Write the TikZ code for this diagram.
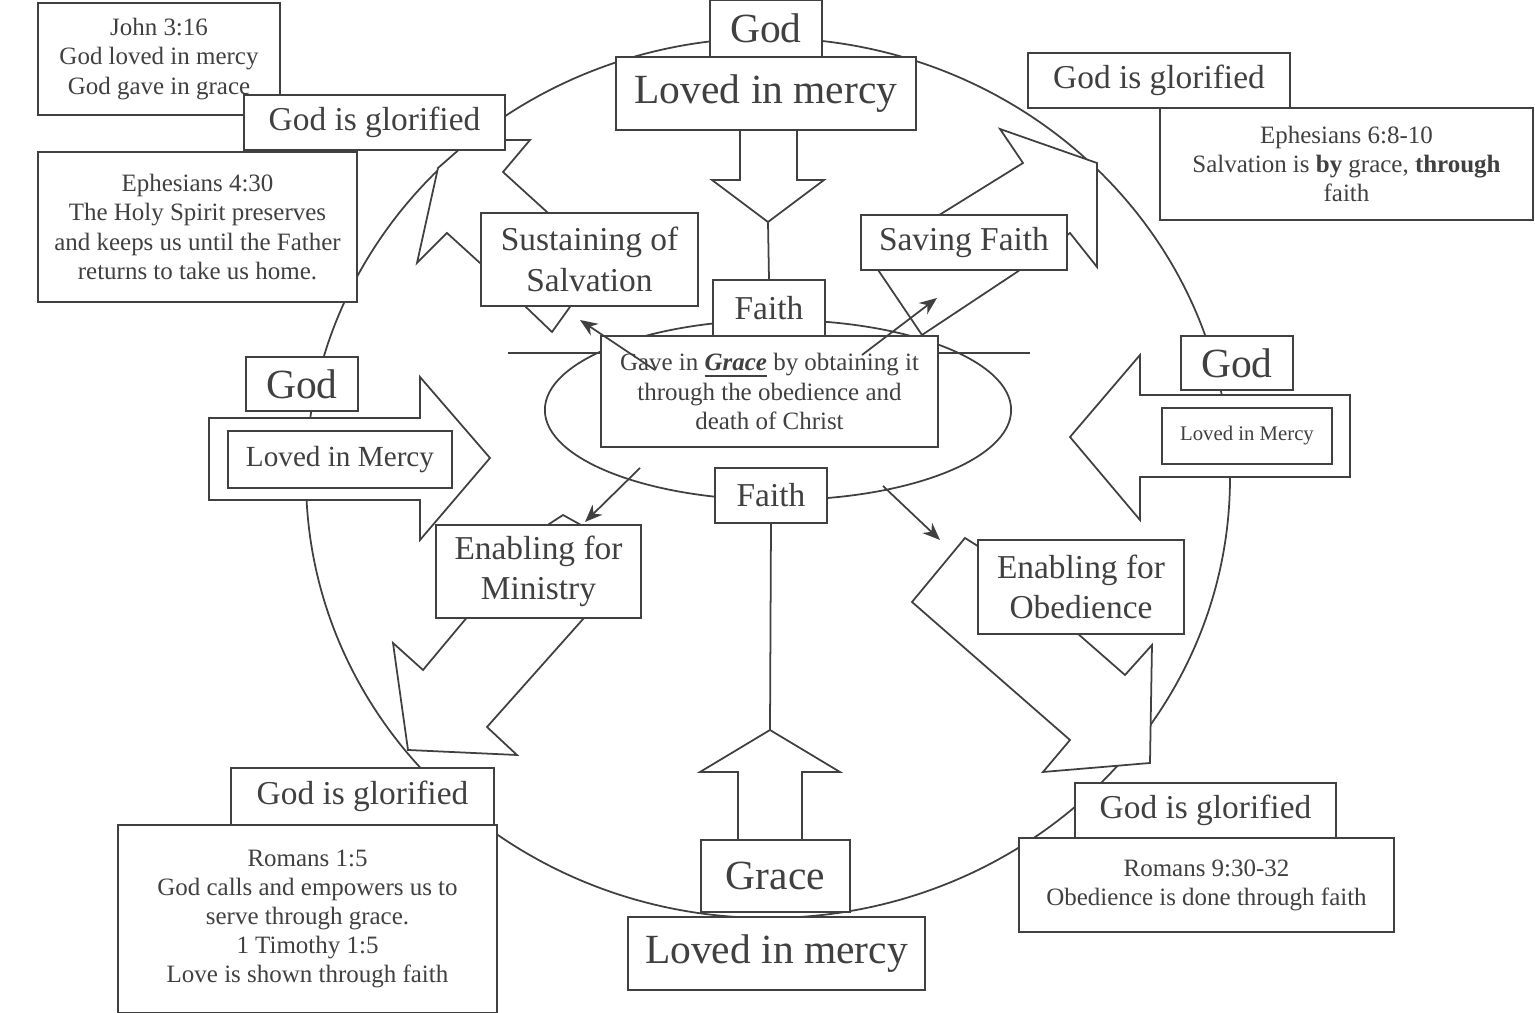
\documentclass[tikz,border=0pt]{standalone}
\usepackage{fontspec}
\setmainfont{Liberation Serif}
\usetikzlibrary{arrows.meta,shapes.geometric}
\tikzset{
  box/.style={draw, fill=white, align=center, inner sep=1pt, line width=0.5pt},
  big/.style={box, font=\fontsize{11.8}{14}\selectfont},
  mid/.style={box, font=\fontsize{9.5}{11.5}\selectfont},
  small/.style={box, font=\fontsize{7.1}{8.3}\selectfont},
  blk/.style={draw, fill=white, line width=0.5pt},
  ptr/.style={-{Stealth[length=5pt,width=4pt]}, line width=0.5pt}
}
\begin{document}
\begin{tikzpicture}[x=0.01cm, y=-0.01cm, color=black!75]
\useasboundingbox (0,0) rectangle (1535,1013);
% outer cycle
\draw[line width=0.5pt] (768,478) ellipse [x radius=462, y radius=440];
% block arrows
\draw[blk] (740,130) -- (740,180) -- (712,180) -- (768,222) -- (824,180) -- (797,180) -- (797,130) -- cycle;
\draw[blk] (738,840) -- (738,772) -- (700,772) -- (770,730) -- (840,772) -- (802,772) -- (802,840) -- cycle;
\draw[blk] (209,418) -- (420,418) -- (420,377) -- (490,458) -- (420,540) -- (420,500) -- (209,500) -- cycle;
\draw[blk] (1350,395) -- (1140,395) -- (1140,355) -- (1070,437) -- (1140,520) -- (1140,477) -- (1350,477) -- cycle;
\draw[blk] (552,332) -- (480,263) -- (447,233) -- (417,263) -- (438,168) -- (470,140) -- (530,140) -- (503,172) -- (547,212) -- (600,265) -- cycle;
\draw[blk] (922,335) -- (870,258) -- (1023,163) -- (1000,129) -- (1097,163) -- (1097,267) -- (1070,233) -- (1017,272) -- cycle;
\draw[blk] (563,515) -- (540,530) -- (423,670) -- (393,643) -- (408,750) -- (517,755) -- (487,727) -- (600,600) -- (590,530) -- cycle;
\draw[blk] (965,538) -- (912,602) -- (1070,740) -- (1043,772) -- (1150,763) -- (1152,645) -- (1125,675) -- (1077,633) -- (1050,600) -- (1000,560) -- cycle;
\draw[line width=0.5pt] (508,353) -- (1030,353);
\node[draw, ellipse, line width=0.5pt, minimum width=4.66cm, minimum height=1.8cm] (ring) at (778,410) {};
\coordinate (tipT) at (768,222);
\coordinate (tipB) at (770,730);
% boxes
\node[small, minimum width=2.42cm, minimum height=1.12cm] (john) at (159,59) {John 3:16\\God loved in mercy\\God gave in grace};
\node[mid, minimum width=2.61cm, minimum height=0.55cm] (glorTL) at (374.5,122.5) {God is glorified};
\node[small, minimum width=3.19cm, minimum height=1.50cm] (eph430) at (197.5,227) {Ephesians 4:30\\The Holy Spirit preserves\\and keeps us until the Father\\returns to take us home.};
\node[big, minimum width=1.12cm, minimum height=0.57cm] (godT) at (766,28.5) {God};
\node[big, minimum width=3.00cm, minimum height=0.73cm] (lovedT) at (766,93.5) {Loved in mercy};
\node[mid, minimum width=2.62cm, minimum height=0.55cm] (glorTR) at (1159,80.5) {God is glorified};
\node[small, minimum width=3.73cm, minimum height=1.12cm] (eph68) at (1346.5,164) {Ephesians 6:8-10\\Salvation is \textbf{by} grace, \textbf{through}\\faith};
\node[mid, minimum width=2.17cm, minimum height=0.93cm] (sustain) at (589.5,259.5) {Sustaining of\\Salvation};
\node[mid, minimum width=2.06cm, minimum height=0.55cm] (saving) at (964,242.5) {Saving Faith};
\node[mid, minimum width=1.12cm, minimum height=0.56cm] (faithT) at (769,308) {Faith};
\node[small, minimum width=3.37cm, minimum height=1.11cm] (gave) at (769.5,391.5) {Gave in \underline{\textbf{\textit{Grace}}} by obtaining it\\through the obedience and\\death of Christ};
\node[mid, minimum width=1.12cm, minimum height=0.55cm] (faithB) at (771,495.5) {Faith};
\node[big, minimum width=1.12cm, minimum height=0.54cm] (godL) at (302,384) {God};
\node[box, font=\fontsize{8.3}{10}\selectfont, minimum width=2.24cm, minimum height=0.57cm] (lovedL) at (340,459.5) {Loved in Mercy};
\node[big, minimum width=1.12cm, minimum height=0.54cm] (godR) at (1237,363) {God};
\node[box, font=\fontsize{5.9}{7}\selectfont, minimum width=1.70cm, minimum height=0.56cm] (lovedR) at (1247,436) {Loved in Mercy};
\node[big, minimum width=1.49cm, minimum height=0.72cm] (grace) at (775.5,876) {Grace};
\node[big, minimum width=2.97cm, minimum height=0.73cm] (lovedB) at (776.5,953.5) {Loved in mercy};
\node[mid, minimum width=2.63cm, minimum height=0.57cm] (glorBL) at (362.5,796.5) {God is glorified};
\node[small, minimum width=3.79cm, minimum height=1.88cm] (rom15) at (307.5,919) {Romans 1:5\\God calls and empowers us to\\serve through grace.\\1 Timothy 1:5\\Love is shown through faith};
\node[mid, minimum width=2.61cm, minimum height=0.55cm] (glorBR) at (1205.5,810.5) {God is glorified};
\node[small, minimum width=3.75cm, minimum height=0.94cm] (rom930) at (1206.5,885) {Romans 9:30-32\\Obedience is done through faith};
\node[mid, minimum width=2.05cm, minimum height=0.93cm] (minist) at (538.5,571.5) {Enabling for\\Ministry};
\node[mid, minimum width=2.06cm, minimum height=0.94cm] (obed) at (1081,587) {Enabling for\\Obedience};
% stems
\draw[line width=0.5pt] (tipT) -- (faithT.north);
\draw[line width=0.5pt] (tipB) -- (faithB.south);
% pointers from the centre
\coordinate (p1) at (655,370); \coordinate (q1) at (580,320);
\coordinate (p2) at (862,355); \coordinate (q2) at (937,298);
\coordinate (p3) at (640,468); \coordinate (q3) at (585,522);
\coordinate (p4) at (883,486); \coordinate (q4) at (940,540);
\foreach \a/\b in {p1/q1, p2/q2, p3/q3, p4/q4}
  \draw[ptr] (\a) -- (\b);
\end{tikzpicture}
\end{document}
